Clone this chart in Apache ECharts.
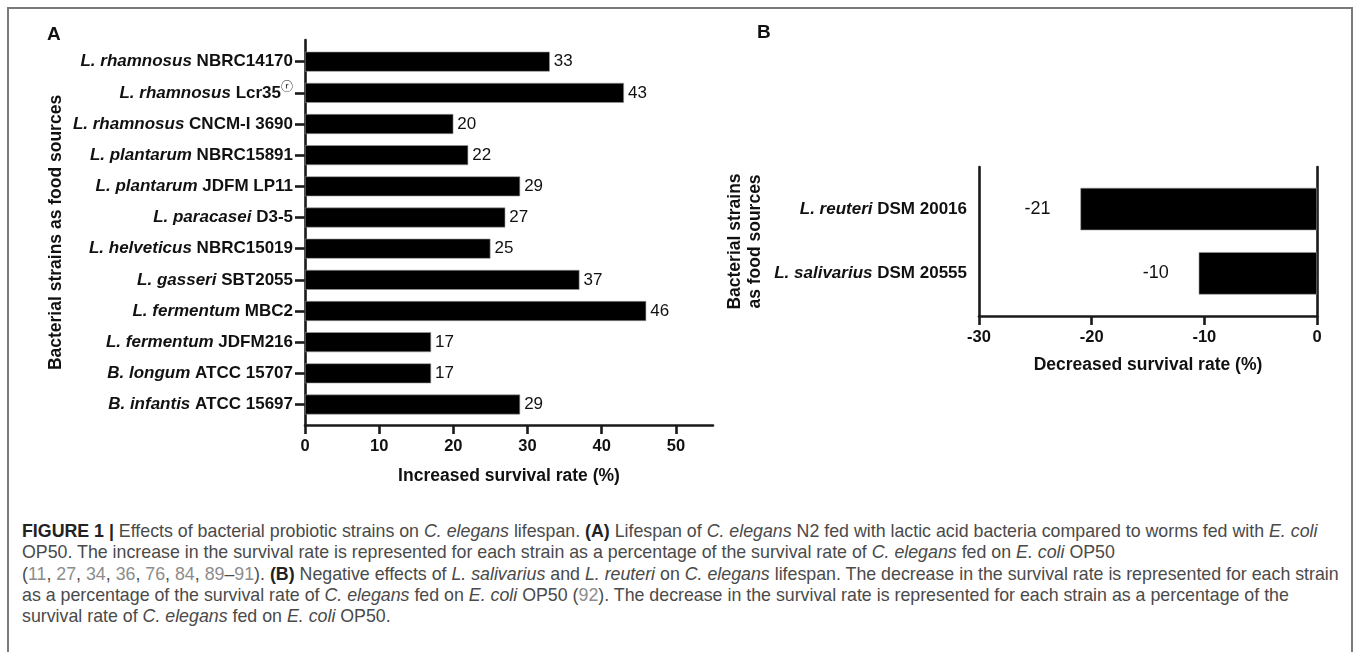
<!DOCTYPE html>
<html>
<head>
<meta charset="utf-8">
<script src="https://cdn.jsdelivr.net/npm/echarts@6/dist/echarts.min.js"></script>
<style>
  html, body { margin: 0; padding: 0; background: #fff; }
  body { width: 1357px; height: 652px; position: relative; overflow: hidden; }
  #frame { position: absolute; left: 7px; top: 7px; width: 1346px; height: 700px; border: 2px solid #7a7a7a; box-sizing: border-box; }
  #chart { position: absolute; left: 0; top: 0; width: 1357px; height: 500px; }
  #cap { position: absolute; left: 22px; top: 521px; font-family: "Liberation Sans", Arial, sans-serif; font-size: 17.8px; line-height: 21.3px; color: #4a4a4a; white-space: nowrap; }
  #cap .b { font-weight: bold; color: #222; }
  #cap .r { color: #8c8c8c; }
</style>
</head>
<body>
<div id="frame"></div>
<div id="chart"></div>
<div id="cap">
<span class="b">FIGURE 1 |</span> Effects of bacterial probiotic strains on <i>C. elegans</i> lifespan. <span class="b">(A)</span> Lifespan of <i>C. elegans</i> N2 fed with lactic acid bacteria compared to worms fed with <i>E. coli</i><br>
OP50. The increase in the survival rate is represented for each strain as a percentage of the survival rate of <i>C. elegans</i> fed on <i>E. coli</i> OP50<br>
(<span class="r">11</span>, <span class="r">27</span>, <span class="r">34</span>, <span class="r">36</span>, <span class="r">76</span>, <span class="r">84</span>, <span class="r">89</span>–<span class="r">91</span>). <span class="b">(B)</span> Negative effects of <i>L. salivarius</i> and <i>L. reuteri</i> on <i>C. elegans</i> lifespan. The decrease in the survival rate is represented for each strain<br>
as a percentage of the survival rate of <i>C. elegans</i> fed on <i>E. coli</i> OP50 (<span class="r">92</span>). The decrease in the survival rate is represented for each strain as a percentage of the<br>
survival rate of <i>C. elegans</i> fed on <i>E. coli</i> OP50.
</div>
<script>
// ---- data ----
const categoriesA = [
  "L. rhamnosus NBRC14170",
  "L. rhamnosus Lcr35ⓡ",
  "L. rhamnosus CNCM-I 3690",
  "L. plantarum NBRC15891",
  "L. plantarum JDFM LP11",
  "L. paracasei D3-5",
  "L. helveticus NBRC15019",
  "L. gasseri SBT2055",
  "L. fermentum MBC2",
  "L. fermentum JDFM216",
  "B. longum ATCC 15707",
  "B. infantis ATCC 15697"
];
const valuesA = [33, 43, 20, 22, 29, 27, 25, 37, 46, 17, 17, 29];
const tickValuesA = [0, 10, 20, 30, 40, 50];
const categoriesB = ["L. reuteri DSM 20016", "L. salivarius DSM 20555"];
const valuesB = [-21, -10.5];
const labelsB = ["-21", "-10"];
const tickValuesB = [-30, -20, -10, 0];
const axisA = { min: 0, max: 55, interval: 10 };
const axisB = { min: -30, max: 0, interval: 10 };

// ---- styles ----
const FONT = '"Liberation Sans", Arial, sans-serif';
const LINE = { color: '#1a1a1a', width: 2.6 };

function catFormatter(s) {
  const parts = s.split(' ');
  const species = parts.slice(0, 2).join(' ');
  let rest = parts.slice(2).join(' ');
  let sup = '';
  if (rest.endsWith('ⓡ')) { sup = 'ⓡ'; rest = rest.slice(0, -1); }
  return '{i|' + species + ' }{b|' + rest + '}' + (sup ? '{s|' + sup + '}' : '');
}
const richCat = {
  i: { fontStyle: 'italic', fontWeight: 'bold', fontSize: 17, fontFamily: FONT, color: '#111', lineHeight: 22 },
  b: { fontWeight: 'bold', fontSize: 17, fontFamily: FONT, color: '#111', lineHeight: 22 },
  s: { fontSize: 12, fontFamily: '"DejaVu Sans", "Noto Sans CJK SC", sans-serif', color: '#111', verticalAlign: 'top', lineHeight: 22 }
};

const chart = echarts.init(document.getElementById('chart'), null, { renderer: 'canvas' });
chart.setOption({
  backgroundColor: 'transparent',
  animation: false,
  title: [
    { text: 'A', left: 47, top: 25, padding: 0, textStyle: { fontFamily: FONT, fontWeight: 'bold', fontSize: 19, color: '#111' } },
    { text: 'B', left: 757, top: 23, padding: 0, textStyle: { fontFamily: FONT, fontWeight: 'bold', fontSize: 19, color: '#111' } }
  ],
  grid: [
    { left: 305, top: 40, width: 408, height: 385 },        // A axes
    { left: 305, top: 46.1, width: 408, height: 374 },      // A bars
    { left: 979, top: 167, width: 338, height: 149 },       // B axes
    { left: 979, top: 176.9, width: 338, height: 128.6 }    // B bars
  ],
  xAxis: [
    {
      gridIndex: 0, type: 'value', min: axisA.min, max: axisA.max, interval: axisA.interval,
      axisLine: { show: true, lineStyle: LINE },
      axisTick: { show: true, length: 9, lineStyle: LINE, customValues: tickValuesA },
      axisLabel: { margin: 13, fontFamily: FONT, fontWeight: 'bold', fontSize: 16.5, color: '#111', customValues: tickValuesA },
      splitLine: { show: false },
      name: 'Increased survival rate (%)', nameLocation: 'middle', nameGap: 42,
      nameTextStyle: { fontFamily: FONT, fontWeight: 'bold', fontSize: 17.5, color: '#111' }
    },
    { gridIndex: 1, type: 'value', min: axisA.min, max: axisA.max, show: false },
    {
      gridIndex: 2, type: 'value', min: axisB.min, max: axisB.max, interval: axisB.interval,
      axisLine: { show: true, onZero: false, lineStyle: LINE },
      axisTick: { show: true, length: 9, lineStyle: LINE, customValues: tickValuesB },
      axisLabel: { margin: 13, fontFamily: FONT, fontWeight: 'bold', fontSize: 16.5, color: '#111', customValues: tickValuesB },
      splitLine: { show: false },
      name: 'Decreased survival rate (%)', nameLocation: 'middle', nameGap: 40,
      nameTextStyle: { fontFamily: FONT, fontWeight: 'bold', fontSize: 17.5, color: '#111' }
    },
    { gridIndex: 3, type: 'value', min: axisB.min, max: axisB.max, show: false }
  ],
  yAxis: [
    {
      gridIndex: 0, type: 'value', min: 0, max: 1,
      axisLine: { show: true, lineStyle: LINE }, axisTick: { show: false }, axisLabel: { show: false },
      splitLine: { show: false },
      name: 'Bacterial strains as food sources', nameLocation: 'middle', nameGap: 240, nameRotate: 90,
      nameTextStyle: { fontFamily: FONT, fontWeight: 'bold', fontSize: 17.5, color: '#111' }
    },
    {
      gridIndex: 1, type: 'category', data: categoriesA, inverse: true,
      axisLine: { show: false },
      axisTick: { show: true, length: 10, alignWithLabel: true, lineStyle: LINE },
      axisLabel: { margin: 12, formatter: catFormatter, rich: richCat }
    },
    {
      gridIndex: 2, type: 'value', min: 0, max: 1, position: 'left',
      axisLine: { show: true, onZero: false, lineStyle: LINE }, axisTick: { show: false }, axisLabel: { show: false },
      splitLine: { show: false },
      name: 'Bacterial strains\nas food sources', nameLocation: 'middle', nameGap: 214, nameRotate: 90,
      nameTextStyle: { fontFamily: FONT, fontWeight: 'bold', fontSize: 17.5, color: '#111', lineHeight: 20 }
    },
    {
      gridIndex: 3, type: 'category', data: categoriesB, inverse: true,
      axisLine: { show: false },
      axisTick: { show: true, length: 10, alignWithLabel: true, lineStyle: LINE },
      axisLabel: { margin: 12, formatter: catFormatter, rich: richCat }
    },
    {
      gridIndex: 2, type: 'value', min: 0, max: 1, position: 'right',
      axisLine: { show: true, onZero: false, lineStyle: LINE }, axisTick: { show: false }, axisLabel: { show: false },
      splitLine: { show: false }
    }
  ],
  series: [
    {
      type: 'bar', xAxisIndex: 1, yAxisIndex: 1, data: valuesA,
      barCategoryGap: '36%',
      itemStyle: { color: '#000', borderColor: '#9a9a9a', borderWidth: 0.6 },
      label: { show: true, position: 'right', distance: 4, fontFamily: FONT, fontSize: 17, color: '#111' }
    },
    {
      type: 'bar', xAxisIndex: 3, yAxisIndex: 3, data: valuesB,
      barCategoryGap: '34%',
      itemStyle: { color: '#000', borderColor: '#9a9a9a', borderWidth: 0.6 },
      label: { show: true, position: 'left', distance: 30, fontFamily: FONT, fontSize: 18, color: '#111',
        formatter: p => labelsB[p.dataIndex] }
    }
  ]
});
</script>
</body>
</html>
